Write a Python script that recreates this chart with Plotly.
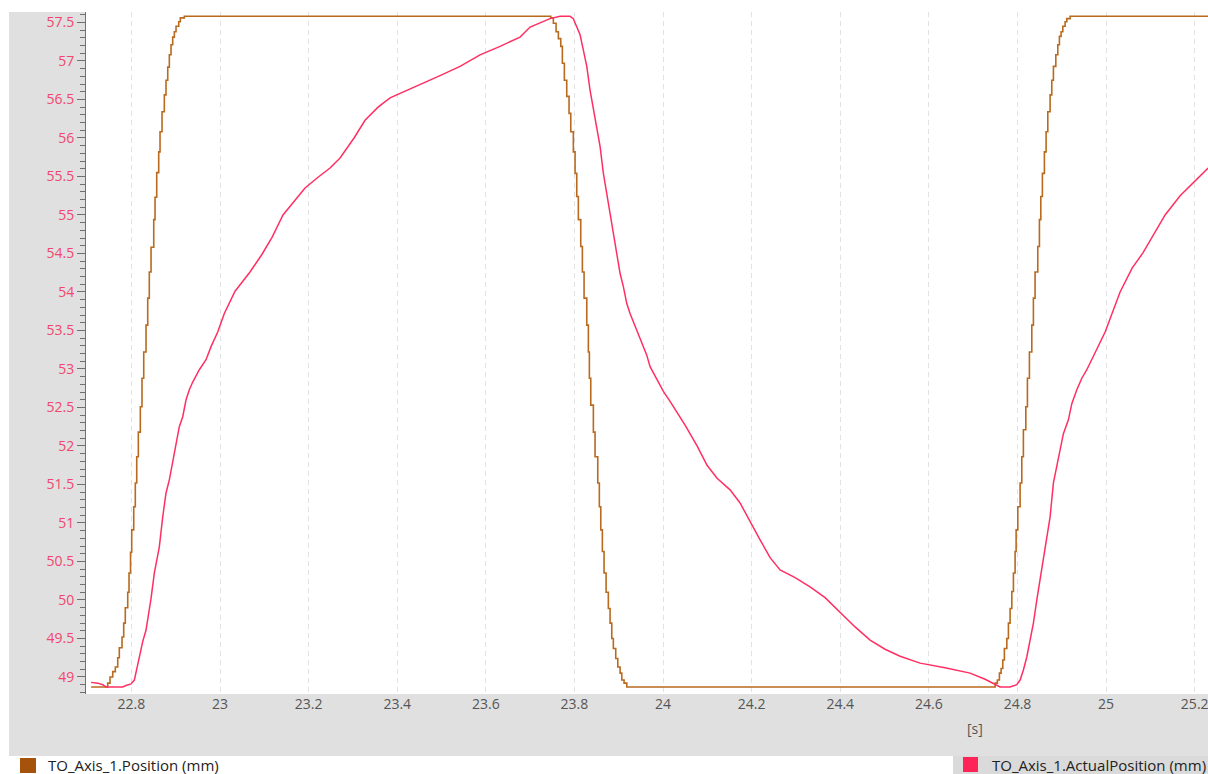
import plotly.graph_objects as go

# ---- data (time in s, position in mm) ----
pos_time = [22.709, 22.7465, 22.7517, 22.7578, 22.7637, 22.7691, 22.7727, 22.7788, 22.7826, 22.7862,
            22.7917, 22.7946, 22.7980, 22.8007, 22.8052, 22.8088, 22.8120, 22.8156, 22.8201, 22.8239,
            22.8278, 22.8330, 22.8368, 22.8404, 22.8443, 22.8504, 22.8533, 22.8571, 22.8616, 22.8646,
            22.8691, 22.8743, 22.8781, 22.8820, 22.8856, 22.8894, 22.8932, 22.8969, 22.9007, 22.9068,
            22.9104, 22.9194,
            23.7465, 23.7524, 23.7585, 23.7637, 23.7691, 23.7727, 23.7772, 23.7826, 23.7878, 23.7917,
            23.7975, 23.8014, 23.8052, 23.8088, 23.8142, 23.8179, 23.8217, 23.8278, 23.8314, 23.8337,
            23.8368, 23.8427, 23.8465, 23.8526, 23.8562, 23.8594, 23.8630, 23.8668, 23.8714, 23.8765,
            23.8804, 23.8842, 23.8878, 23.8932, 23.8978, 23.9030, 23.9068, 23.9120, 23.9181,
            24.7495, 24.7546, 24.7592, 24.7630, 24.7668, 24.7704, 24.7759, 24.7795, 24.7833, 24.7872,
            24.7908, 24.7946, 24.7969, 24.8007, 24.8059, 24.8097, 24.8133, 24.8188, 24.8224, 24.8269,
            24.8323, 24.8359, 24.8397, 24.8458, 24.8495, 24.8526, 24.8562, 24.8607, 24.8646, 24.8684,
            24.8736, 24.8774, 24.8811, 24.8865, 24.8910, 24.8946, 24.8984, 24.9023, 24.9075, 24.9113,
            24.9188, 25.2303]
pos_value = [48.87, 48.92, 49.00, 49.07, 49.13, 49.25, 49.38, 49.52, 49.70, 49.90,
             50.10, 50.35, 50.62, 50.91, 51.21, 51.52, 51.86, 52.18, 52.51, 52.88,
             53.22, 53.57, 53.92, 54.26, 54.58, 54.94, 55.23, 55.55, 55.82, 56.08,
             56.34, 56.56, 56.75, 56.92, 57.08, 57.21, 57.31, 57.38, 57.45, 57.51,
             57.56, 57.58,
             57.56, 57.49, 57.38, 57.29, 57.19, 56.97, 56.75, 56.54, 56.32, 56.08,
             55.82, 55.54, 55.24, 54.94, 54.59, 54.26, 53.92, 53.57, 53.22, 52.88,
             52.53, 52.18, 51.86, 51.52, 51.21, 50.91, 50.63, 50.35, 50.10, 49.89,
             49.70, 49.50, 49.37, 49.24, 49.13, 49.05, 48.96, 48.92, 48.87,
             48.92, 48.96, 49.05, 49.11, 49.22, 49.37, 49.50, 49.70, 49.89, 50.11,
             50.35, 50.63, 50.91, 51.21, 51.52, 51.86, 52.21, 52.51, 52.88, 53.22,
             53.57, 53.92, 54.26, 54.59, 54.94, 55.24, 55.54, 55.82, 56.08, 56.34,
             56.56, 56.75, 56.93, 57.08, 57.21, 57.32, 57.38, 57.45, 57.51, 57.55,
             57.58, 57.58]

act_time = [22.709, 22.7239, 22.7352, 22.7427, 22.7540, 22.7804, 22.7878, 22.7991, 22.8066, 22.8104,
            22.8142, 22.8194, 22.8255, 22.8330, 22.8391, 22.8443, 22.8517, 22.8571, 22.8630, 22.8707,
            22.8781, 22.8856, 22.8932, 22.9007, 22.9081, 22.9158, 22.9233, 22.9307, 22.9384, 22.9533,
            22.9684, 22.9797, 22.9948, 23.0097, 23.0339, 23.0677, 23.0948, 23.1174, 23.1422, 23.1693,
            23.1919, 23.2212, 23.2483, 23.2709, 23.3025, 23.3273, 23.3567, 23.3838, 23.4176, 23.4515,
            23.4966, 23.5418, 23.5869, 23.6321, 23.6772, 23.6998, 23.7224, 23.7449, 23.7675, 23.7901,
            23.7975, 23.8052, 23.8127, 23.8201, 23.8278, 23.8352, 23.8427, 23.8504, 23.8578, 23.8653,
            23.8729, 23.8804, 23.8878, 23.8955, 23.9030, 23.9104, 23.9181, 23.9255, 23.9330, 23.9407,
            23.9519, 23.9632, 23.9707, 23.9858, 24.0007, 24.0158, 24.0497, 24.0768, 24.0993, 24.1219,
            24.1513, 24.1738, 24.1964, 24.2190, 24.2416, 24.2641, 24.2980, 24.3318, 24.3657, 24.3996,
            24.4334, 24.4673, 24.5011, 24.5350, 24.5801, 24.6366, 24.6930, 24.7269, 24.7495, 24.7607,
            24.7833, 24.7984, 24.8059, 24.8133, 24.8210, 24.8285, 24.8359, 24.8436, 24.8510, 24.8585,
            24.8662, 24.8736, 24.8811, 24.8887, 24.8962, 24.9036, 24.9149, 24.9226, 24.9339, 24.9452,
            24.9565, 24.9677, 24.9790, 24.9978, 25.0316, 25.0587, 25.0835, 25.1106, 25.1332, 25.1671,
            25.1941, 25.2122, 25.2303]
act_value = [48.93, 48.92, 48.90, 48.87, 48.87, 48.87, 48.89, 48.91, 48.96, 49.07,
             49.18, 49.31, 49.46, 49.61, 49.83, 50.02, 50.35, 50.50, 50.69, 51.08,
             51.39, 51.56, 51.80, 52.01, 52.25, 52.38, 52.60, 52.73, 52.83, 52.99,
             53.12, 53.29, 53.48, 53.72, 54.01, 54.26, 54.49, 54.71, 55.00, 55.19,
             55.35, 55.49, 55.61, 55.74, 56.00, 56.23, 56.40, 56.52, 56.61, 56.70,
             56.81, 56.93, 57.08, 57.19, 57.31, 57.44, 57.50, 57.55, 57.58, 57.58,
             57.55, 57.45, 57.34, 57.14, 56.93, 56.62, 56.36, 56.10, 55.89, 55.54,
             55.28, 55.02, 54.76, 54.50, 54.24, 54.07, 53.85, 53.72, 53.61, 53.51,
             53.35, 53.18, 53.03, 52.86, 52.71, 52.58, 52.27, 52.00, 51.75, 51.58,
             51.43, 51.26, 51.01, 50.78, 50.55, 50.39, 50.29, 50.17, 50.03, 49.84,
             49.65, 49.48, 49.36, 49.27, 49.18, 49.12, 49.05, 48.97, 48.91, 48.87,
             48.87, 48.90, 48.96, 49.09, 49.26, 49.48, 49.70, 50.00, 50.26, 50.52,
             50.82, 51.08, 51.52, 51.73, 51.95, 52.16, 52.34, 52.55, 52.73, 52.88,
             52.99, 53.12, 53.27, 53.48, 54.00, 54.31, 54.51, 54.78, 55.00, 55.25,
             55.40, 55.51, 55.61]

y_tick_vals = [49, 49.5, 50, 50.5, 51, 51.5, 52, 52.5, 53, 53.5, 54, 54.5, 55, 55.5, 56, 56.5, 57, 57.5]
y_tick_text = ["49", "49.5", "50", "50.5", "51", "51.5", "52", "52.5", "53", "53.5",
               "54", "54.5", "55", "55.5", "56", "56.5", "57", "57.5"]
x_tick_vals = [22.8, 23.0, 23.2, 23.4, 23.6, 23.8, 24.0, 24.2, 24.4, 24.6, 24.8, 25.0, 25.2]
x_tick_text = ["22.8", "23", "23.2", "23.4", "23.6", "23.8", "24", "24.2", "24.4", "24.6", "24.8", "25", "25.2"]

series_names = ["TO_Axis_1.Position (mm)", "TO_Axis_1.ActualPosition (mm)"]
x_unit = "[s]"

# ---- style ----
FONT = "Segoe UI, Open Sans, sans-serif"
C_POS = "#B86A1E"
C_POS_LEG = "#A5520A"
C_ACT = "#FF2F62"
C_ACT_LEG = "#FF2457"
GREY = "#E0E0E0"
X_RANGE = [22.6975, 25.230]
Y_RANGE = [48.779, 57.636]

fig = go.Figure()
fig.add_trace(go.Scatter(x=pos_time, y=pos_value, mode="lines", line_shape="hv",
                         line=dict(color=C_POS, width=1.6), name=series_names[0],
                         showlegend=False, hoverinfo="skip"))
fig.add_trace(go.Scatter(x=act_time, y=act_value, mode="lines",
                         line=dict(color=C_ACT, width=1.5), name=series_names[1],
                         showlegend=False, hoverinfo="skip"))

# left/bottom grey frame and legend bar (paper coords)
def px_x(px):
    return (px - 86) / 1122.0

def px_y(py):
    return (694 - py) / 682.0

shapes = [
    dict(type="rect", xref="paper", yref="paper", x0=px_x(9), x1=0, y0=px_y(756), y1=1,
         fillcolor=GREY, line=dict(width=0), layer="below"),
    dict(type="rect", xref="paper", yref="paper", x0=0, x1=1, y0=px_y(756), y1=0,
         fillcolor=GREY, line=dict(width=0), layer="below"),
    dict(type="rect", xref="paper", yref="paper", x0=px_x(953), x1=1, y0=px_y(775), y1=px_y(756),
         fillcolor="#DADADA", line=dict(width=0), layer="below"),
    dict(type="rect", xref="paper", yref="paper", x0=px_x(20), x1=px_x(36), y0=px_y(773), y1=px_y(758),
         fillcolor=C_POS_LEG, line=dict(width=0)),
    dict(type="rect", xref="paper", yref="paper", x0=px_x(963), x1=px_x(978), y0=px_y(772), y1=px_y(757),
         fillcolor=C_ACT_LEG, line=dict(width=0)),
]

annotations = [
    dict(text=series_names[0], xref="paper", yref="paper", x=px_x(46), y=px_y(765.5),
         xanchor="left", yanchor="middle", showarrow=False,
         font=dict(family=FONT, size=15, color="#222222")),
    dict(text=series_names[1], xref="paper", yref="paper", x=px_x(990), y=px_y(765.5),
         xanchor="left", yanchor="middle", showarrow=False,
         font=dict(family=FONT, size=15, color="#222222")),
    dict(text=x_unit, xref="paper", yref="paper", x=px_x(975), y=px_y(728),
         xanchor="center", yanchor="middle", showarrow=False,
         font=dict(family=FONT, size=14, color="#555555")),
]

fig.update_layout(
    width=1208, height=774,
    margin=dict(l=86, r=0, t=12, b=80),
    paper_bgcolor="white", plot_bgcolor="white",
    shapes=shapes, annotations=annotations,
    showlegend=False,
    xaxis=dict(range=X_RANGE, tickvals=x_tick_vals, ticktext=x_tick_text,
               showgrid=True, gridcolor="#E2E2E2", gridwidth=1, griddash="5px,4px",
               zeroline=False, showline=False, ticks="", ticklen=0,
               ticklabeloverflow="allow",
               tickfont=dict(family=FONT, size=14, color="#555555")),
    yaxis=dict(range=Y_RANGE, tickvals=y_tick_vals, ticktext=y_tick_text,
               showgrid=False, zeroline=False, showline=True, linecolor="#707070", linewidth=1,
               ticks="outside", ticklen=8, tickcolor="#707070", tickwidth=1,
               minor=dict(dtick=0.1, tick0=49, ticks="outside", ticklen=5, tickcolor="#707070", showgrid=False),
               tickfont=dict(family=FONT, size=14, color="#F2466E")),
    yaxis2=dict(range=Y_RANGE, overlaying="y", side="left", tick0=49.5, dtick=1,
                showgrid=True, gridcolor="#E4E4E4", gridwidth=1.5, showticklabels=False,
                ticks="", zeroline=False, showline=False),
)

fig.write_html("out.html", config={"displayModeBar": False},
               post_script="document.body.style.margin='0';document.body.style.overflow='hidden';")
